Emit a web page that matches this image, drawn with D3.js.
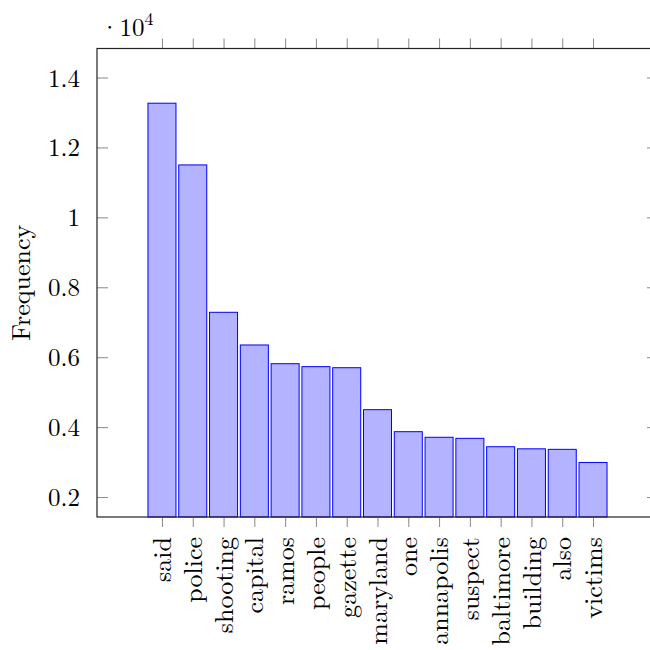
<!DOCTYPE html>
<html>
<head>
<meta charset="utf-8">
<script src="https://cdn.jsdelivr.net/npm/d3@7"></script>
<style>
  body { margin: 0; background: #fff; }
  svg { display: block; }
  text { font-family: "Latin Modern Roman", "Liberation Serif", serif; fill: #000; }
</style>
</head>
<body>
<div id="chart"></div>
<script>
// word frequencies
const words = ["said", "police", "shooting", "capital", "ramos", "people", "gazette",
    "maryland", "one", "annapolis", "suspect", "baltimore", "building", "also", "victims"];
const counts = [13265, 11500, 7285, 6350, 5815, 5730, 5700,
    4500, 3870, 3710, 3680, 3440, 3380, 3365, 2990];
const yTicks = [2000, 4000, 6000, 8000, 10000, 12000, 14000];

const W = 650, H = 650;
const plotL = 97, plotR = 658, plotT = 48.5, plotB = 517;

const svg = d3.select("#chart").append("svg")
    .attr("width", W)
    .attr("height", H);

// x by word index, with pgfplots-like padding either side
const x = d3.scaleLinear()
    .domain([-2.11, words.length - 1 + 2.11])
    .range([plotL, plotR]);

const y = d3.scaleLinear()
    .domain([1430, 14830])
    .range([plotB, plotT]);

const barW = x(0.91) - x(0);

// bars
svg.append("g").selectAll("rect")
    .data(counts)
    .enter()
    .append("rect")
    .attr("x", (d, i) => x(i) - barW / 2)
    .attr("y", d => y(d))
    .attr("width", barW)
    .attr("height", d => plotB - y(d))
    .attr("fill", "#b3b3ff")
    .attr("stroke", "#0000ff")
    .attr("stroke-width", 1);

const idx = d3.range(words.length);
const fmt = d => String(+(d / 1e4).toFixed(1));

// bottom axis: outward ticks with rotated word labels
const xb = svg.append("g")
    .attr("transform", `translate(0,${plotB})`)
    .call(d3.axisBottom(x).tickValues(idx).tickSize(10).tickFormat(i => words[i]));
xb.select(".domain").remove();
xb.selectAll("line").attr("stroke", "#888");
xb.selectAll("text")
    .attr("transform", "rotate(-90)")
    .attr("x", -20)
    .attr("y", 0)
    .attr("dy", "0.33em")
    .attr("text-anchor", "end")
    .style("font-size", "26px");

// top axis: ticks only
const xt = svg.append("g")
    .attr("transform", `translate(0,${plotT})`)
    .call(d3.axisTop(x).tickValues(idx).tickSize(10).tickFormat(""));
xt.select(".domain").remove();
xt.selectAll("line").attr("stroke", "#888");

// left axis: inward ticks
const yl = svg.append("g")
    .attr("transform", `translate(${plotL},0)`)
    .call(d3.axisLeft(y).tickValues(yTicks).tickSizeInner(-11).tickSizeOuter(0)
        .tickPadding(17).tickFormat(fmt));
yl.select(".domain").remove();
yl.selectAll("line").attr("stroke", "#888");
yl.selectAll("text").style("font-size", "25px").attr("dy", "0.34em");

// right axis: inward ticks, no labels
const yr = svg.append("g")
    .attr("transform", `translate(${plotR},0)`)
    .call(d3.axisRight(y).tickValues(yTicks).tickSizeInner(-11).tickSizeOuter(0).tickFormat(""));
yr.select(".domain").remove();
yr.selectAll("line").attr("stroke", "#888");

// frame
svg.append("rect")
    .attr("x", plotL)
    .attr("y", plotT)
    .attr("width", plotR - plotL)
    .attr("height", plotB - plotT)
    .attr("fill", "none")
    .attr("stroke", "#222")
    .attr("stroke-width", 1.2);

// scale factor label
const sc = svg.append("text")
    .attr("x", 100)
    .attr("y", 36)
    .style("font-size", "25px");
sc.append("tspan").text("\u00b710");
sc.append("tspan")
    .attr("dy", -11)
    .style("font-size", "18px")
    .text("4");

// y label
svg.append("text")
    .attr("transform", `translate(30,${(plotT + plotB) / 2}) rotate(-90)`)
    .attr("text-anchor", "middle")
    .style("font-size", "26px")
    .text("Frequency");
</script>
</body>
</html>
